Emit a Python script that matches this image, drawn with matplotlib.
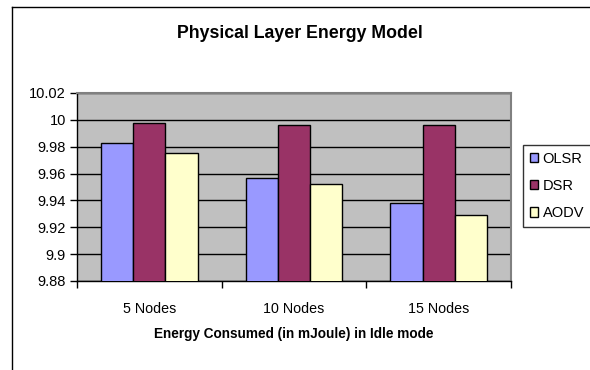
import matplotlib.pyplot as plt
from matplotlib.lines import Line2D
import numpy as np

plt.rcParams['font.family'] = ['Liberation Sans', 'DejaVu Sans']

categories = ['5 Nodes', '10 Nodes', '15 Nodes']
olsr = [9.983, 9.957, 9.938]
dsr = [9.9975, 9.9965, 9.9965]
aodv = [9.975, 9.952, 9.929]
series = ['OLSR', 'DSR', 'AODV']
colors = ['#9999FF', '#993366', '#FFFFCC']
yticks = [9.88, 9.9, 9.92, 9.94, 9.96, 9.98, 10, 10.02]
ytick_labels = ['9.88', '9.9', '9.92', '9.94', '9.96', '9.98', '10', '10.02']

fig = plt.figure(figsize=(5.9, 3.7), dpi=100)
ax = fig.add_axes([77/590, 1-281/370, (511-77)/590, (281-93)/370])

x = np.arange(len(categories))
w = 0.223
for i, (vals, name, c) in enumerate(zip([olsr, dsr, aodv], series, colors)):
    ax.bar(x + (i-1)*w, vals, w, color=c, edgecolor='black', linewidth=1.0,
           label=name, zorder=3)

ax.set_facecolor('#C0C0C0')
ax.set_ylim(9.88, 10.02)
ax.set_xlim(-0.5, 2.5)
ax.set_yticks(yticks)
ax.set_yticklabels(ytick_labels, fontsize=10.5)
ax.set_xticks(x)
ax.set_xticklabels(categories, fontsize=10.3)
ax.tick_params(axis='x', which='major', length=0, pad=15)
ax.set_xticks([-0.5, 0.5, 1.5, 2.5], minor=True)
ax.tick_params(axis='x', which='minor', length=5, width=1, direction='out')
ax.tick_params(axis='y', length=5, width=1, direction='out', pad=3)
ax.grid(axis='y', color='black', linewidth=1, zorder=1)
ax.set_axisbelow(True)
for s in ['top', 'right']:
    ax.spines[s].set_color('#808080')
    ax.spines[s].set_linewidth(1.5)
for s in ['left', 'bottom']:
    ax.spines[s].set_color('black')
    ax.spines[s].set_linewidth(1)

ax.set_xlabel('Energy Consumed (in mJoule) in Idle mode', fontsize=9.8,
              fontweight='bold', labelpad=8)
fig.text(300/590, 1-34/370, 'Physical Layer Energy Model', fontsize=12.8,
         fontweight='bold', ha='center', va='center')

leg = ax.legend(loc='center left', bbox_to_anchor=(523/590, 1-186/370),
                bbox_transform=fig.transFigure, fontsize=10.5, frameon=True,
                fancybox=False, edgecolor='black', handlelength=0.6,
                handleheight=0.6, handletextpad=0.3, labelspacing=0.9,
                borderpad=0.45, borderaxespad=0)
leg.get_frame().set_linewidth(1)

# outer chart border
fig.add_artist(Line2D([12/590, 12/590], [0, 1-7/370], transform=fig.transFigure,
                      color='black', linewidth=1))
fig.add_artist(Line2D([12/590, 1], [1-7/370, 1-7/370], transform=fig.transFigure,
                      color='black', linewidth=1))

fig.savefig('out.png', dpi=100)
